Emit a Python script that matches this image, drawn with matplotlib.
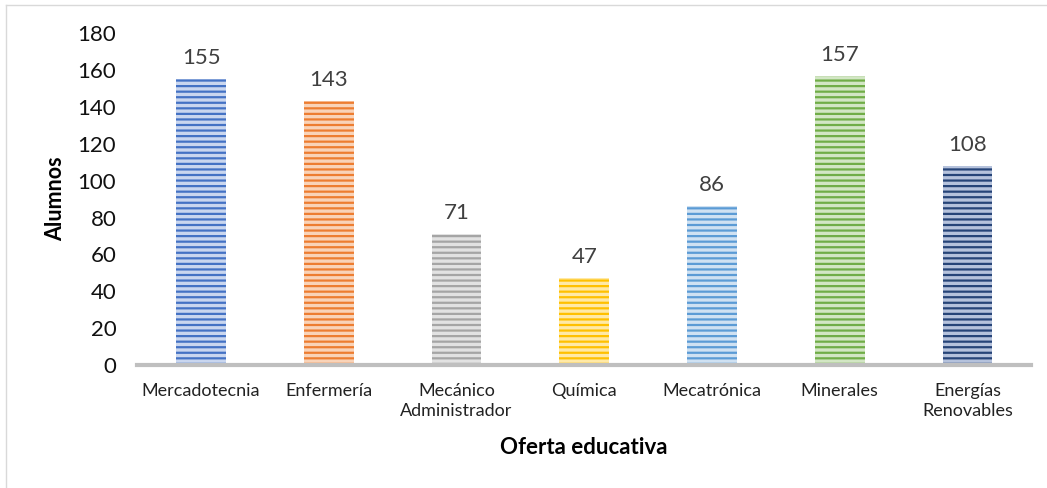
import matplotlib
matplotlib.use("Agg")
import matplotlib.pyplot as plt
from matplotlib.lines import Line2D

plt.rcParams.update({
    "font.family": ["Lato", "DejaVu Sans"],
    "hatch.linewidth": 1.6,
})

CARRERAS = ["Mercadotecnia", "Enfermería", "Mecánico\nAdministrador", "Química",
            "Mecatrónica", "Minerales", "Energías\nRenovables"]
ALUMNOS = [155, 143, 71, 47, 86, 157, 108]
COLORES = ["#4472C4", "#ED7D31", "#A5A5A5", "#FFC000", "#5B9BD5", "#70AD47", "#264478"]
CLAROS = ["#C9D6EF", "#F9D3B8", "#E2E2E2", "#FFE9A6", "#CFE1F2", "#D2E6C4", "#B5C2DC"]

fig = plt.figure(figsize=(10.47, 4.88), dpi=100)
ax = fig.add_axes([0.131, 0.252, 0.854, 0.68])

x = range(len(CARRERAS))
bars = ax.bar(x, ALUMNOS, width=0.39, hatch="---", linewidth=0, zorder=2)
for b, c, cl in zip(bars, COLORES, CLAROS):
    b.set_edgecolor(c)
    b.set_facecolor(cl)

for xi, v in zip(x, ALUMNOS):
    ax.text(xi, v + 6, f"{v}", ha="center", va="bottom", fontsize=16, color="#404040")

ax.set_xlim(-0.5, len(CARRERAS) - 0.5)
ax.set_ylim(0, 180)
ax.set_yticks(range(0, 181, 20))
ax.set_xticks(list(x))
ax.set_xticklabels(CARRERAS, fontsize=13, color="#222222", linespacing=1.3)
ax.tick_params(axis="y", labelsize=16, length=0, pad=15, labelcolor="#111111")
ax.tick_params(axis="x", length=0, pad=13)

for s in ["top", "right", "left"]:
    ax.spines[s].set_visible(False)
ax.spines["bottom"].set_color("#BFBFBF")
ax.spines["bottom"].set_linewidth(3)

ax.set_ylabel("Alumnos", fontsize=15.5, fontweight="bold", labelpad=8)
ax.set_xlabel("Oferta educativa", fontsize=16, fontweight="bold", labelpad=13)

# marco exterior (solo borde superior e izquierdo visibles)
fig.add_artist(Line2D([0.0062, 0.0062], [0.0, 0.99], transform=fig.transFigure,
                      color="#D9D9D9", linewidth=1))
fig.add_artist(Line2D([0.0062, 1.0], [0.99, 0.99], transform=fig.transFigure,
                      color="#D9D9D9", linewidth=1))

fig.savefig("out.png", dpi=100)
